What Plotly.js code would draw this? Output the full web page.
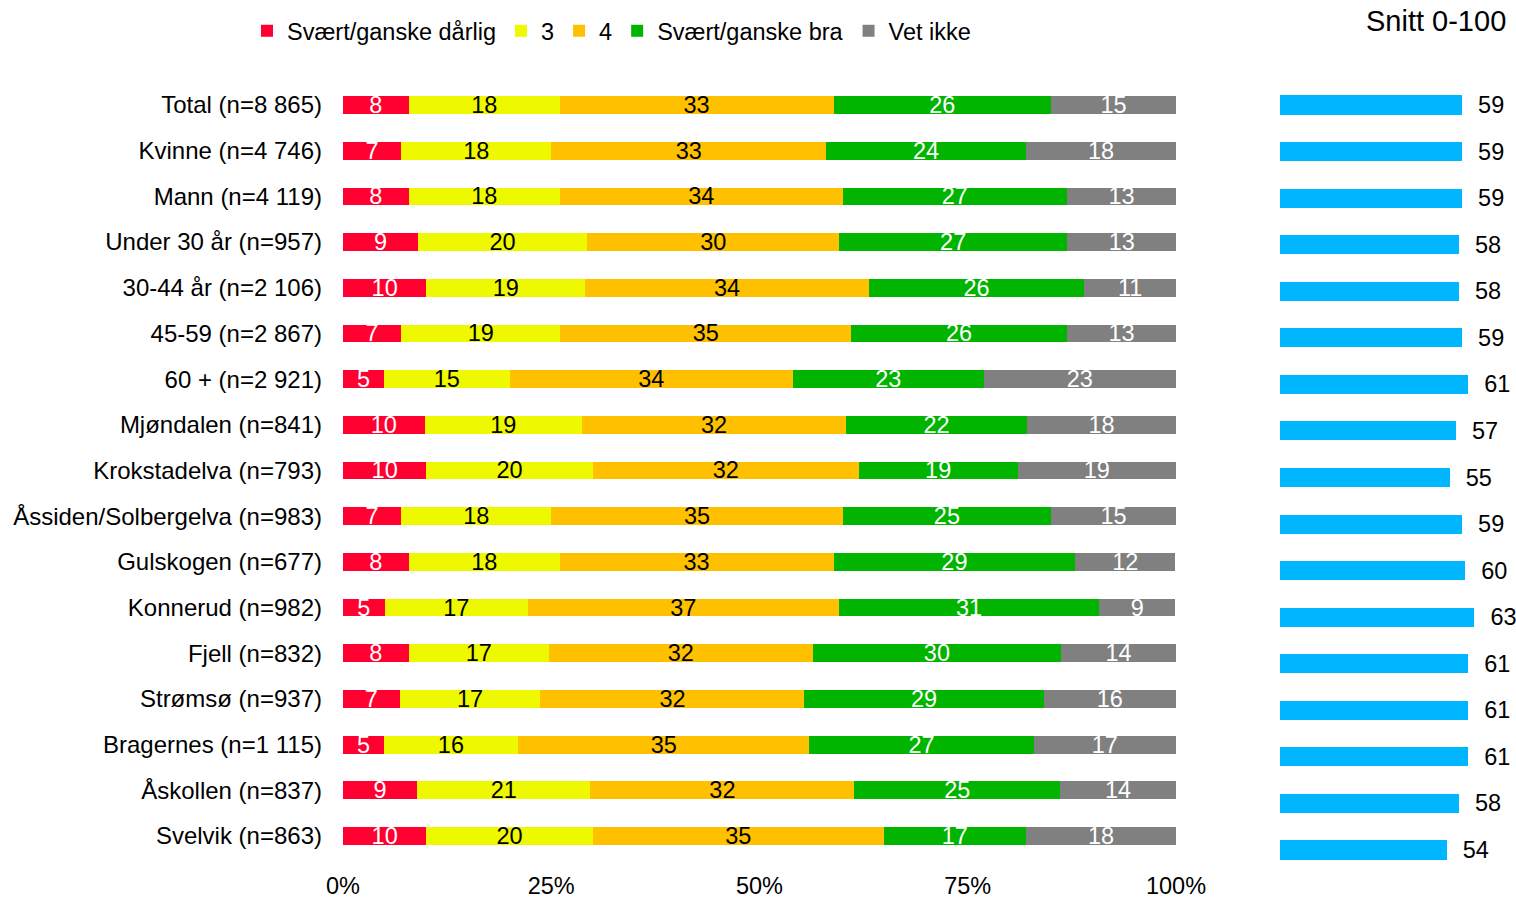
<!DOCTYPE html>
<html>
<head>
<meta charset="utf-8">
<script src="https://cdn.plot.ly/plotly-3.0.1.min.js"></script>
<style>html,body{margin:0;padding:0;background:#fff}#chart{width:1516px;height:898px}</style>
</head>
<body>
<div id="chart"></div>
<script>
const categories = ["Total (n=8 865)","Kvinne (n=4 746)","Mann (n=4 119)","Under 30 år (n=957)","30-44 år (n=2 106)","45-59 (n=2 867)","60 + (n=2 921)","Mjøndalen (n=841)","Krokstadelva (n=793)","Åssiden/Solbergelva (n=983)","Gulskogen (n=677)","Konnerud (n=982)","Fjell (n=832)","Strømsø (n=937)","Bragernes (n=1 115)","Åskollen (n=837)","Svelvik (n=863)"];
const seriesNames = ["Svært/ganske dårlig","3","4","Svært/ganske bra","Vet ikke"];
// shares in % (labels show them rounded)
const bad      = [7.9,7.0,7.9,9.0,10.0,7.0,4.9,9.8,10.0,7.0,7.9,5.0,7.9,6.8,4.9,8.9,10.0];
const three    = [18.1,18.0,18.1,20.3,19.1,19.1,15.1,18.9,20.0,18.0,18.1,17.2,16.8,16.9,16.1,20.8,20.0];
const four     = [32.9,33.0,34.0,30.3,34.0,34.9,34.0,31.7,31.9,35.0,32.9,37.3,31.7,31.7,35.0,31.7,34.9];
const good     = [26.1,24.0,26.9,27.3,25.9,25.9,22.9,21.7,19.1,25.0,29.0,31.3,29.8,28.7,26.9,24.7,17.1];
const dontKnow = [15.0,18.0,13.1,13.2,11.0,13.1,23.1,17.9,19.0,15.0,12.0,9.1,13.8,15.9,17.1,13.9,18.0];
const snitt    = [59,59,59,58,58,59,61,57,55,59,60,63,61,61,61,58,54];
const snittTitle = "Snitt 0-100";
const xTicks = [0,25,50,75,100];
const xTickText = ["0%","25%","50%","75%","100%"];

const colors = ["#FF0030","#EEF900","#FFC000","#00B400","#808080"];
const textColors = ["#ffffff","#000000","#000000","#ffffff","#ffffff"];
const FONT = "Liberation Sans, Arial, sans-serif";
const FS = 24;

const seriesValues = [bad, three, four, good, dontKnow];
const traces = seriesValues.map((vals, i) => ({
  type: "bar",
  orientation: "h",
  name: seriesNames[i],
  x: vals,
  y: categories,
  xaxis: "x",
  yaxis: "y",
  width: 0.39,
  marker: {color: colors[i], line: {width: 0}},
  texttemplate: "%{x:.0f}",
  textposition: "inside",
  insidetextanchor: "middle",
  constraintext: "none",
  textangle: 0,
  insidetextfont: {family: FONT, size: 23.5, color: textColors[i]},
  hoverinfo: "skip"
}));

traces.push({
  type: "bar",
  orientation: "h",
  name: snittTitle,
  showlegend: false,
  x: snitt,
  y: categories,
  xaxis: "x2",
  yaxis: "y2",
  width: 0.41,
  marker: {color: "#00B6FF", line: {width: 0}},
  text: snitt.map(v => "\u00a0\u00a0" + v),
  textposition: "outside",
  constraintext: "none",
  cliponaxis: false,
  outsidetextfont: {family: FONT, size: 23.5, color: "#000"},
  hoverinfo: "skip"
});

const layout = {
  width: 1516,
  height: 898,
  margin: {l: 0, r: 0, t: 0, b: 0},
  paper_bgcolor: "#fff",
  plot_bgcolor: "rgba(0,0,0,0)",
  barmode: "stack",
  font: {family: FONT, size: FS, color: "#000"},
  showlegend: true,
  legend: {
    orientation: "h",
    x: 247/1516, xanchor: "left",
    y: 1 - 31/898, yanchor: "middle",
    font: {family: FONT, size: 23.5, color: "#000"},
    traceorder: "normal",
    bgcolor: "rgba(0,0,0,0)"
  },
  xaxis: {
    domain: [343/1516, 1176/1516],
    range: [0, 100],
    tickmode: "array",
    tickvals: xTicks,
    ticktext: xTickText,
    showgrid: false, zeroline: false, showline: false,
    ticks: "",
    ticklabelstandoff: 11,
    tickfont: {family: FONT, size: 23.5, color: "#000"},
    automargin: false,
    fixedrange: true
  },
  yaxis: {
    domain: [1 - 858.8/898, 1 - 82.2/898],
    type: "category",
    categoryorder: "array",
    categoryarray: categories,
    autorange: "reversed",
    showgrid: false, zeroline: false, showline: false,
    ticks: "",
    ticklabelstandoff: 20,
    tickfont: {family: FONT, size: 24, color: "#000"},
    automargin: false,
    fixedrange: true
  },
  xaxis2: {
    domain: [1280/1516, 1],
    range: [0, 236/3.085],
    anchor: "y2",
    visible: false,
    fixedrange: true
  },
  yaxis2: {
    domain: [1 - 873.3/898, 1 - 81.7/898],
    anchor: "x2",
    type: "category",
    categoryorder: "array",
    categoryarray: categories,
    autorange: "reversed",
    visible: false,
    fixedrange: true
  },
  annotations: [{
    text: snittTitle,
    xref: "paper", yref: "paper",
    x: 1508/1516, xanchor: "right",
    y: 1 - 21/898, yanchor: "middle",
    showarrow: false,
    font: {family: FONT, size: 29, color: "#000"}
  }]
};

Plotly.newPlot("chart", traces, layout, {displayModeBar: false, staticPlot: true});
</script>
</body>
</html>
